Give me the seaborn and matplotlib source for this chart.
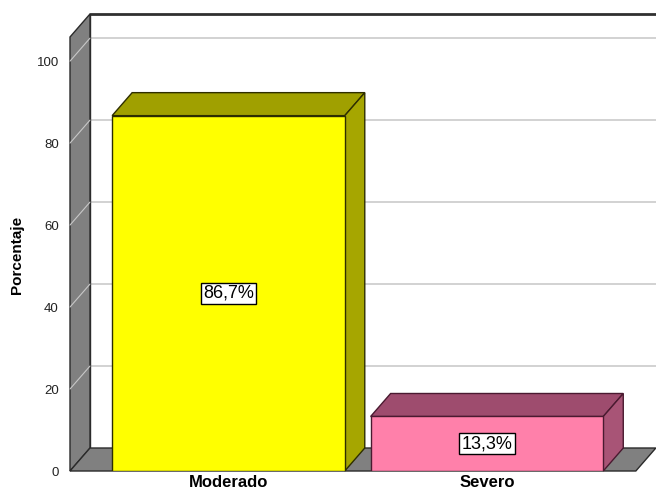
import matplotlib
matplotlib.use("Agg")
import matplotlib.pyplot as plt
import seaborn as sns
import pandas as pd
from matplotlib.patches import Polygon
from matplotlib.lines import Line2D

# ---- data ----
categories = ["Moderado", "Severo"]
percentages = [86.7, 13.3]
value_labels = ["86,7%", "13,3%"]
y_ticks = [0, 20, 40, 60, 80, 100]
y_label = "Porcentaje"

# ---- styles ----
front_colors = ["#FFFF00", "#FF80AA"]
top_colors = ["#A0A000", "#9E4C6E"]
side_colors = ["#A6A600", "#A85476"]
edge_colors = ["#2e2e00", "#4a1a30"]
wall_color = "#808080"
grid_color = "#cfcfcf"

sns.set_theme(style="white")
plt.rcParams["font.family"] = ["Liberation Sans", "DejaVu Sans"]

W, H = 656, 494
fig = plt.figure(figsize=(W / 100, H / 100), dpi=100)
fig.patch.set_facecolor("white")
ax = fig.add_axes([70 / W, 23 / H, (656 - 70) / W, (471 - 14) / H])

df = pd.DataFrame({"cat": categories, "pct": percentages})
sns.barplot(data=df, x="cat", y="pct", hue="cat", palette=front_colors,
            saturation=1, width=0.9, legend=False, ax=ax, zorder=6,
            edgecolor="none", linewidth=0)

x0, x1 = -0.613, 1.654
ytop = 111.5
ax.set_xlim(x0, x1)
ax.set_ylim(0, ytop)
dx = 20 / 258.5
dy = 5.61
xr = 1.576
for s in ax.spines.values():
    s.set_visible(False)
ax.grid(False)
ax.set_facecolor("none")

bars = [pp for pp in ax.patches if pp.get_zorder() == 6]

# back wall
back = Polygon([(x0 + dx, dy), (x1 + 0.05, dy), (x1 + 0.05, ytop), (x0 + dx, ytop)],
               closed=True, facecolor="white", edgecolor="none", zorder=0, clip_on=False)
ax.add_patch(back)
for v in y_ticks[1:]:
    ax.add_line(Line2D([x0 + dx, x1 + 0.05], [v + dy, v + dy], color=grid_color,
                       lw=1.3, zorder=1, clip_on=False))
ax.add_line(Line2D([x0 + dx, x1 + 0.05], [ytop, ytop], color="#303030", lw=2.0,
                   zorder=2, clip_on=False))
ax.add_line(Line2D([x0 + dx, x0 + dx], [dy, ytop], color="#303030", lw=1.0,
                   zorder=2, clip_on=False))

# side wall
T = ytop - dy
side = Polygon([(x0, 0), (x0, T), (x0 + dx, T + dy), (x0 + dx, dy)], closed=True,
               facecolor=wall_color, edgecolor="#2a2a2a", lw=1.0, zorder=3, clip_on=False)
ax.add_patch(side)
for v in y_ticks[1:]:
    ax.add_line(Line2D([x0, x0 + dx], [v, v + dy], color="#c8c8c8", lw=0.8,
                       zorder=3.5, clip_on=False))

# floor
floor = Polygon([(x0, 0), (xr, 0), (xr + dx, dy), (x0 + dx, dy)], closed=True,
                facecolor=wall_color, edgecolor="#2a2a2a", lw=1.0, zorder=3, clip_on=False)
ax.add_patch(floor)

# 3D faces of the bars
for i, p in enumerate(bars):
    x = p.get_x()
    w = p.get_width()
    h = p.get_height()
    p.set_edgecolor(edge_colors[i])
    p.set_linewidth(1.0)
    top = Polygon([(x, h), (x + w, h), (x + w + dx, h + dy), (x + dx, h + dy)],
                  closed=True, facecolor=top_colors[i], edgecolor=edge_colors[i],
                  lw=1.0, zorder=5, clip_on=False)
    sidef = Polygon([(x + w, 0), (x + w + dx, dy), (x + w + dx, h + dy), (x + w, h)],
                    closed=True, facecolor=side_colors[i], edgecolor=edge_colors[i],
                    lw=1.0, zorder=5, clip_on=False)
    ax.add_patch(top)
    ax.add_patch(sidef)
    ax.text(x + w / 2, h / 2, value_labels[i], ha="center", va="center",
            fontsize=13, color="black", zorder=8,
            bbox=dict(boxstyle="square,pad=0.12", facecolor="white",
                      edgecolor="black", lw=1.0))

ax.set_yticks(y_ticks)
ax.set_yticklabels([str(t) for t in y_ticks], fontsize=9.5, color="#222222")
ax.tick_params(axis="y", length=0, pad=8)
ax.tick_params(axis="x", length=0, pad=3)
ax.set_xticks(range(len(categories)))
ax.set_xticklabels(categories, fontsize=12, fontweight="bold", color="black")
ax.set_xlabel("")
ax.set_ylabel(y_label, fontsize=11, fontweight="bold", color="black")
ax.yaxis.set_label_coords((24 - 70) / 586, (471 - 255) / 457)

fig.savefig("out.png", dpi=100, facecolor="white")
